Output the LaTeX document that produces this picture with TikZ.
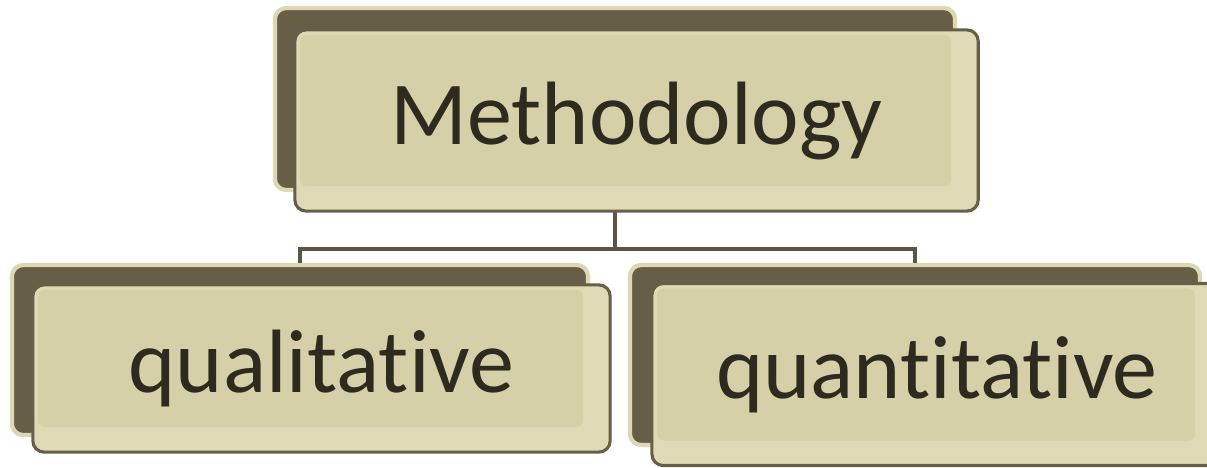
\documentclass[tikz,border=0pt]{standalone}
\usepackage{fontspec}
\setmainfont{Carlito}[Ligatures={NoCommon,NoRare,NoContextual}]
\usetikzlibrary{positioning}

\definecolor{olivedark}{HTML}{675E48}
\definecolor{sandlight}{HTML}{DDD8B4}
\definecolor{sandfill}{HTML}{DEDAB6}
\definecolor{sandpanel}{HTML}{D5D0A8}
\definecolor{inkbrown}{HTML}{2E2A1F}

\tikzset{
  backbox/.style={rectangle, rounded corners=8pt, fill=olivedark, draw=sandlight,
    line width=3pt, inner sep=0pt},
  frontbox/.style={rectangle, rounded corners=8pt, fill=sandfill, draw=olivedark,
    line width=2.2pt, inner sep=0pt, text=inkbrown,
    path picture={\fill[sandpanel, rounded corners=5pt]
      ([shift={(5,5)}]path picture bounding box.north west) rectangle
      ([shift={(-27,-25)}]path picture bounding box.south east);}},
  link/.style={draw=olivedark!90!black, line width=2.8pt},
}

\begin{document}
\begin{tikzpicture}[x=0.025cm, y=-0.025cm]
        \useasboundingbox (0,0) rectangle (1207,467);

        % shadow boxes
        \node[backbox, minimum width=17cm, minimum height=4.55cm] (methback) at (615,99) {};
        \node[backbox, minimum width=14.4cm, minimum height=4.25cm] (qualback) at (300,350) {};
        \node[backbox, minimum width=14.25cm, minimum height=4.5cm] (quantback) at (915,355) {};

        \draw[link] (methback.south) -- ++(0,57) coordinate (bus);
        \draw[link] (qualback.north) |- (bus) -| (quantback.north);

        % front boxes
        \node[frontbox, minimum width=17.08cm, minimum height=4.53cm] (meth) at (636.5,120.5)
            {\fontsize{64}{70}\selectfont Methodology};
        \node[frontbox, minimum width=14.43cm, minimum height=4.18cm] (qual) at (321.5,368.5)
            {\fontsize{64}{70}\selectfont qualitative};
        \node[frontbox, minimum width=14.25cm, minimum height=4.55cm] (quant) at (937,374.5)
            {\fontsize{64}{70}\selectfont quantitative};
    \end{tikzpicture}
\end{document}
